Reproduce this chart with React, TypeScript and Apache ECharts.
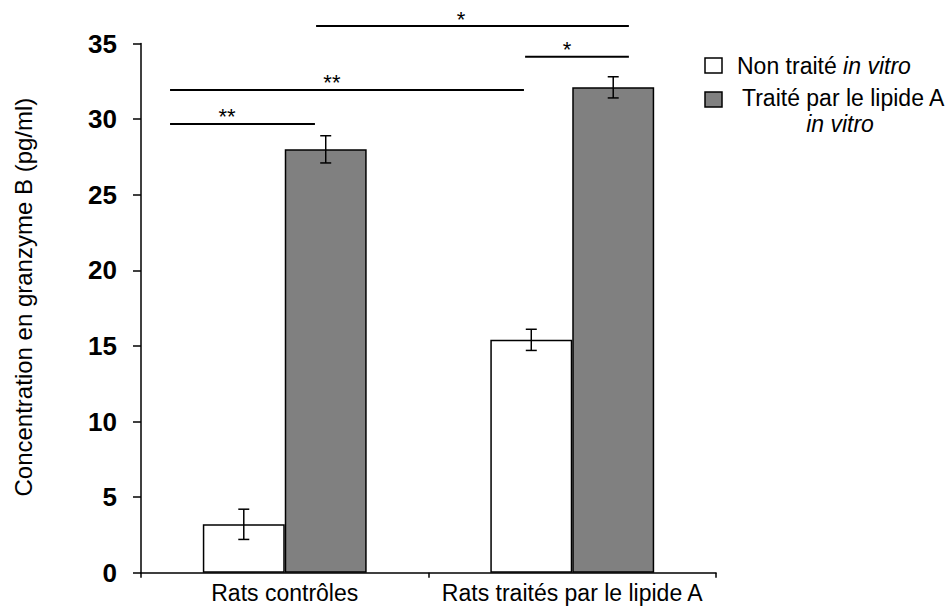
import React, { useEffect, useRef } from 'react';
import * as echarts from 'echarts';

const categories = ['Rats contrôles', 'Rats traités par le lipide A'];
const seriesNames = ['Non traité in vitro', 'Traité par le lipide A in vitro'];
const untreatedValues = [3.2, 15.4];
const untreatedErrors = [1.0, 0.7];
const treatedValues = [28.0, 32.1];
const treatedErrors = [0.9, 0.7];
const yMin = 0;
const yMax = 35;
const yInterval = 5;
const yTitle = 'Concentration en granzyme B (pg/ml)';

// significance brackets, x in category units (0..2), y in data units
const sigStart = [0.101, 0.101, 1.336, 0.609];
const sigEnd = [0.605, 1.332, 1.697, 1.697];
const sigLevel = [29.68, 31.93, 34.13, 36.15];
const sigStarPos = [0.299, 0.664, 1.482, 1.113];
const sigLabels = ['**', '**', '*', '*'];

const FONT = '"Liberation Sans", Arial, Helvetica, sans-serif';
const CAT_GAP = 0.43;

export default function App() {
  const ref = useRef<HTMLDivElement>(null);
  useEffect(() => {
    document.body.style.margin = '0';
    const chart = echarts.init(ref.current!, null, { renderer: 'svg' });

    const errData = [
      ...untreatedValues.map((v, i) => [i, v, untreatedErrors[i], -1]),
      ...treatedValues.map((v, i) => [i, v, treatedErrors[i], 1]),
    ];
    const sigData = sigStart.map((s, i) => [s, sigEnd[i], sigLevel[i], sigStarPos[i]]);

    chart.setOption({
      animation: false,
      textStyle: { fontFamily: FONT },
      grid: { left: 141, right: 230, top: 43.5, bottom: 39.3, containLabel: false },
      xAxis: [
        {
          type: 'category',
          data: categories,
          axisLine: { lineStyle: { color: '#000', width: 1.5 } },
          axisTick: { show: true, length: 5, lineStyle: { color: '#000', width: 1.5 } },
          axisLabel: {
            color: '#000',
            fontSize: 23,
            margin: 9,
            interval: 0,
            hideOverlap: false,
            fontFamily: FONT,
          },
          splitLine: { show: false },
        },
        { type: 'value', min: 0, max: 2, show: false },
      ],
      yAxis: {
        type: 'value',
        min: yMin,
        max: yMax,
        interval: yInterval,
        splitLine: { show: false },
        axisLine: { show: true, lineStyle: { color: '#000', width: 1.5 } },
        axisTick: { show: true, length: 8, lineStyle: { color: '#000', width: 1.5 } },
        axisLabel: { color: '#000', fontSize: 26, fontWeight: 'bold', margin: 24, fontFamily: FONT },
        name: yTitle,
        nameLocation: 'middle',
        nameGap: 106,
        nameTextStyle: { color: '#000', fontSize: 24, fontFamily: FONT, padding: [0, 0, 0, 22] },
      },
      series: [
        {
          name: seriesNames[0],
          type: 'bar',
          data: untreatedValues,
          barGap: '0%',
          barCategoryGap: CAT_GAP * 100 + '%',
          itemStyle: { color: '#ffffff', borderColor: '#000', borderWidth: 1.5 },
        },
        {
          name: seriesNames[1],
          type: 'bar',
          data: treatedValues,
          barGap: '0%',
          barCategoryGap: CAT_GAP * 100 + '%',
          itemStyle: { color: '#808080', borderColor: '#000', borderWidth: 1.5 },
        },
        {
          type: 'custom',
          name: 'errors',
          data: errData,
          z: 10,
          renderItem: (params: any, api: any) => {
            const cat = api.value(0);
            const v = api.value(1);
            const e = api.value(2);
            const side = api.value(3);
            const band = api.size([1, 0])[0];
            const barW = (band * (1 - CAT_GAP)) / 2;
            const top = api.coord([cat, v + e]);
            const bot = api.coord([cat, v - e]);
            const x = top[0] + (side * barW) / 2;
            const cap = 5.5;
            const st = { stroke: '#000', lineWidth: 1.5 };
            return {
              type: 'group',
              children: [
                { type: 'line', shape: { x1: x, y1: top[1], x2: x, y2: bot[1] }, style: st },
                { type: 'line', shape: { x1: x - cap, y1: top[1], x2: x + cap, y2: top[1] }, style: st },
                { type: 'line', shape: { x1: x - cap, y1: bot[1], x2: x + cap, y2: bot[1] }, style: st },
              ],
            };
          },
        },
        {
          type: 'custom',
          name: 'significance',
          xAxisIndex: 1,
          yAxisIndex: 0,
          data: sigData,
          clip: false,
          z: 10,
          renderItem: (params: any, api: any) => {
            const a = api.coord([api.value(0), api.value(2)]);
            const b = api.coord([api.value(1), api.value(2)]);
            const s = api.coord([api.value(3), api.value(2)]);
            return {
              type: 'group',
              children: [
                {
                  type: 'line',
                  shape: { x1: a[0], y1: a[1], x2: b[0], y2: b[1] },
                  style: { stroke: '#000', lineWidth: 2 },
                },
                {
                  type: 'text',
                  style: {
                    text: sigLabels[params.dataIndex],
                    x: s[0],
                    y: s[1] + 4,
                    textAlign: 'center',
                    textVerticalAlign: 'bottom',
                    fontSize: 22,
                    fontFamily: FONT,
                    fill: '#000',
                  },
                },
              ],
            };
          },
        },
      ],
      graphic: [
        {
          type: 'rect',
          shape: { x: 705, y: 58, width: 17, height: 15 },
          style: { fill: '#ffffff', stroke: '#000', lineWidth: 1.5 },
        },
        {
          type: 'text',
          x: 737,
          y: 66,
          style: {
            text: '{n|Non traité }{i|in vitro}',
            verticalAlign: 'middle',
            fill: '#000',
            rich: {
              n: { fontSize: 23, fontFamily: FONT, fill: '#000' },
              i: { fontSize: 23, fontFamily: FONT, fontStyle: 'italic', fill: '#000' },
            },
          },
        },
        {
          type: 'rect',
          shape: { x: 705, y: 92, width: 17, height: 15 },
          style: { fill: '#808080', stroke: '#000', lineWidth: 1.5 },
        },
        {
          type: 'text',
          x: 742,
          y: 98,
          style: {
            text: 'Traité par le lipide A',
            verticalAlign: 'middle',
            fontSize: 23,
            fontFamily: FONT,
            fill: '#000',
          },
        },
        {
          type: 'text',
          x: 840,
          y: 124,
          style: {
            text: 'in vitro',
            align: 'center',
            verticalAlign: 'middle',
            fontSize: 23,
            fontStyle: 'italic',
            fontFamily: FONT,
            fill: '#000',
          },
        },
      ],
    });
    return () => chart.dispose();
  }, []);
  return <div ref={ref} style={{ width: 946, height: 612 }} />;
}
